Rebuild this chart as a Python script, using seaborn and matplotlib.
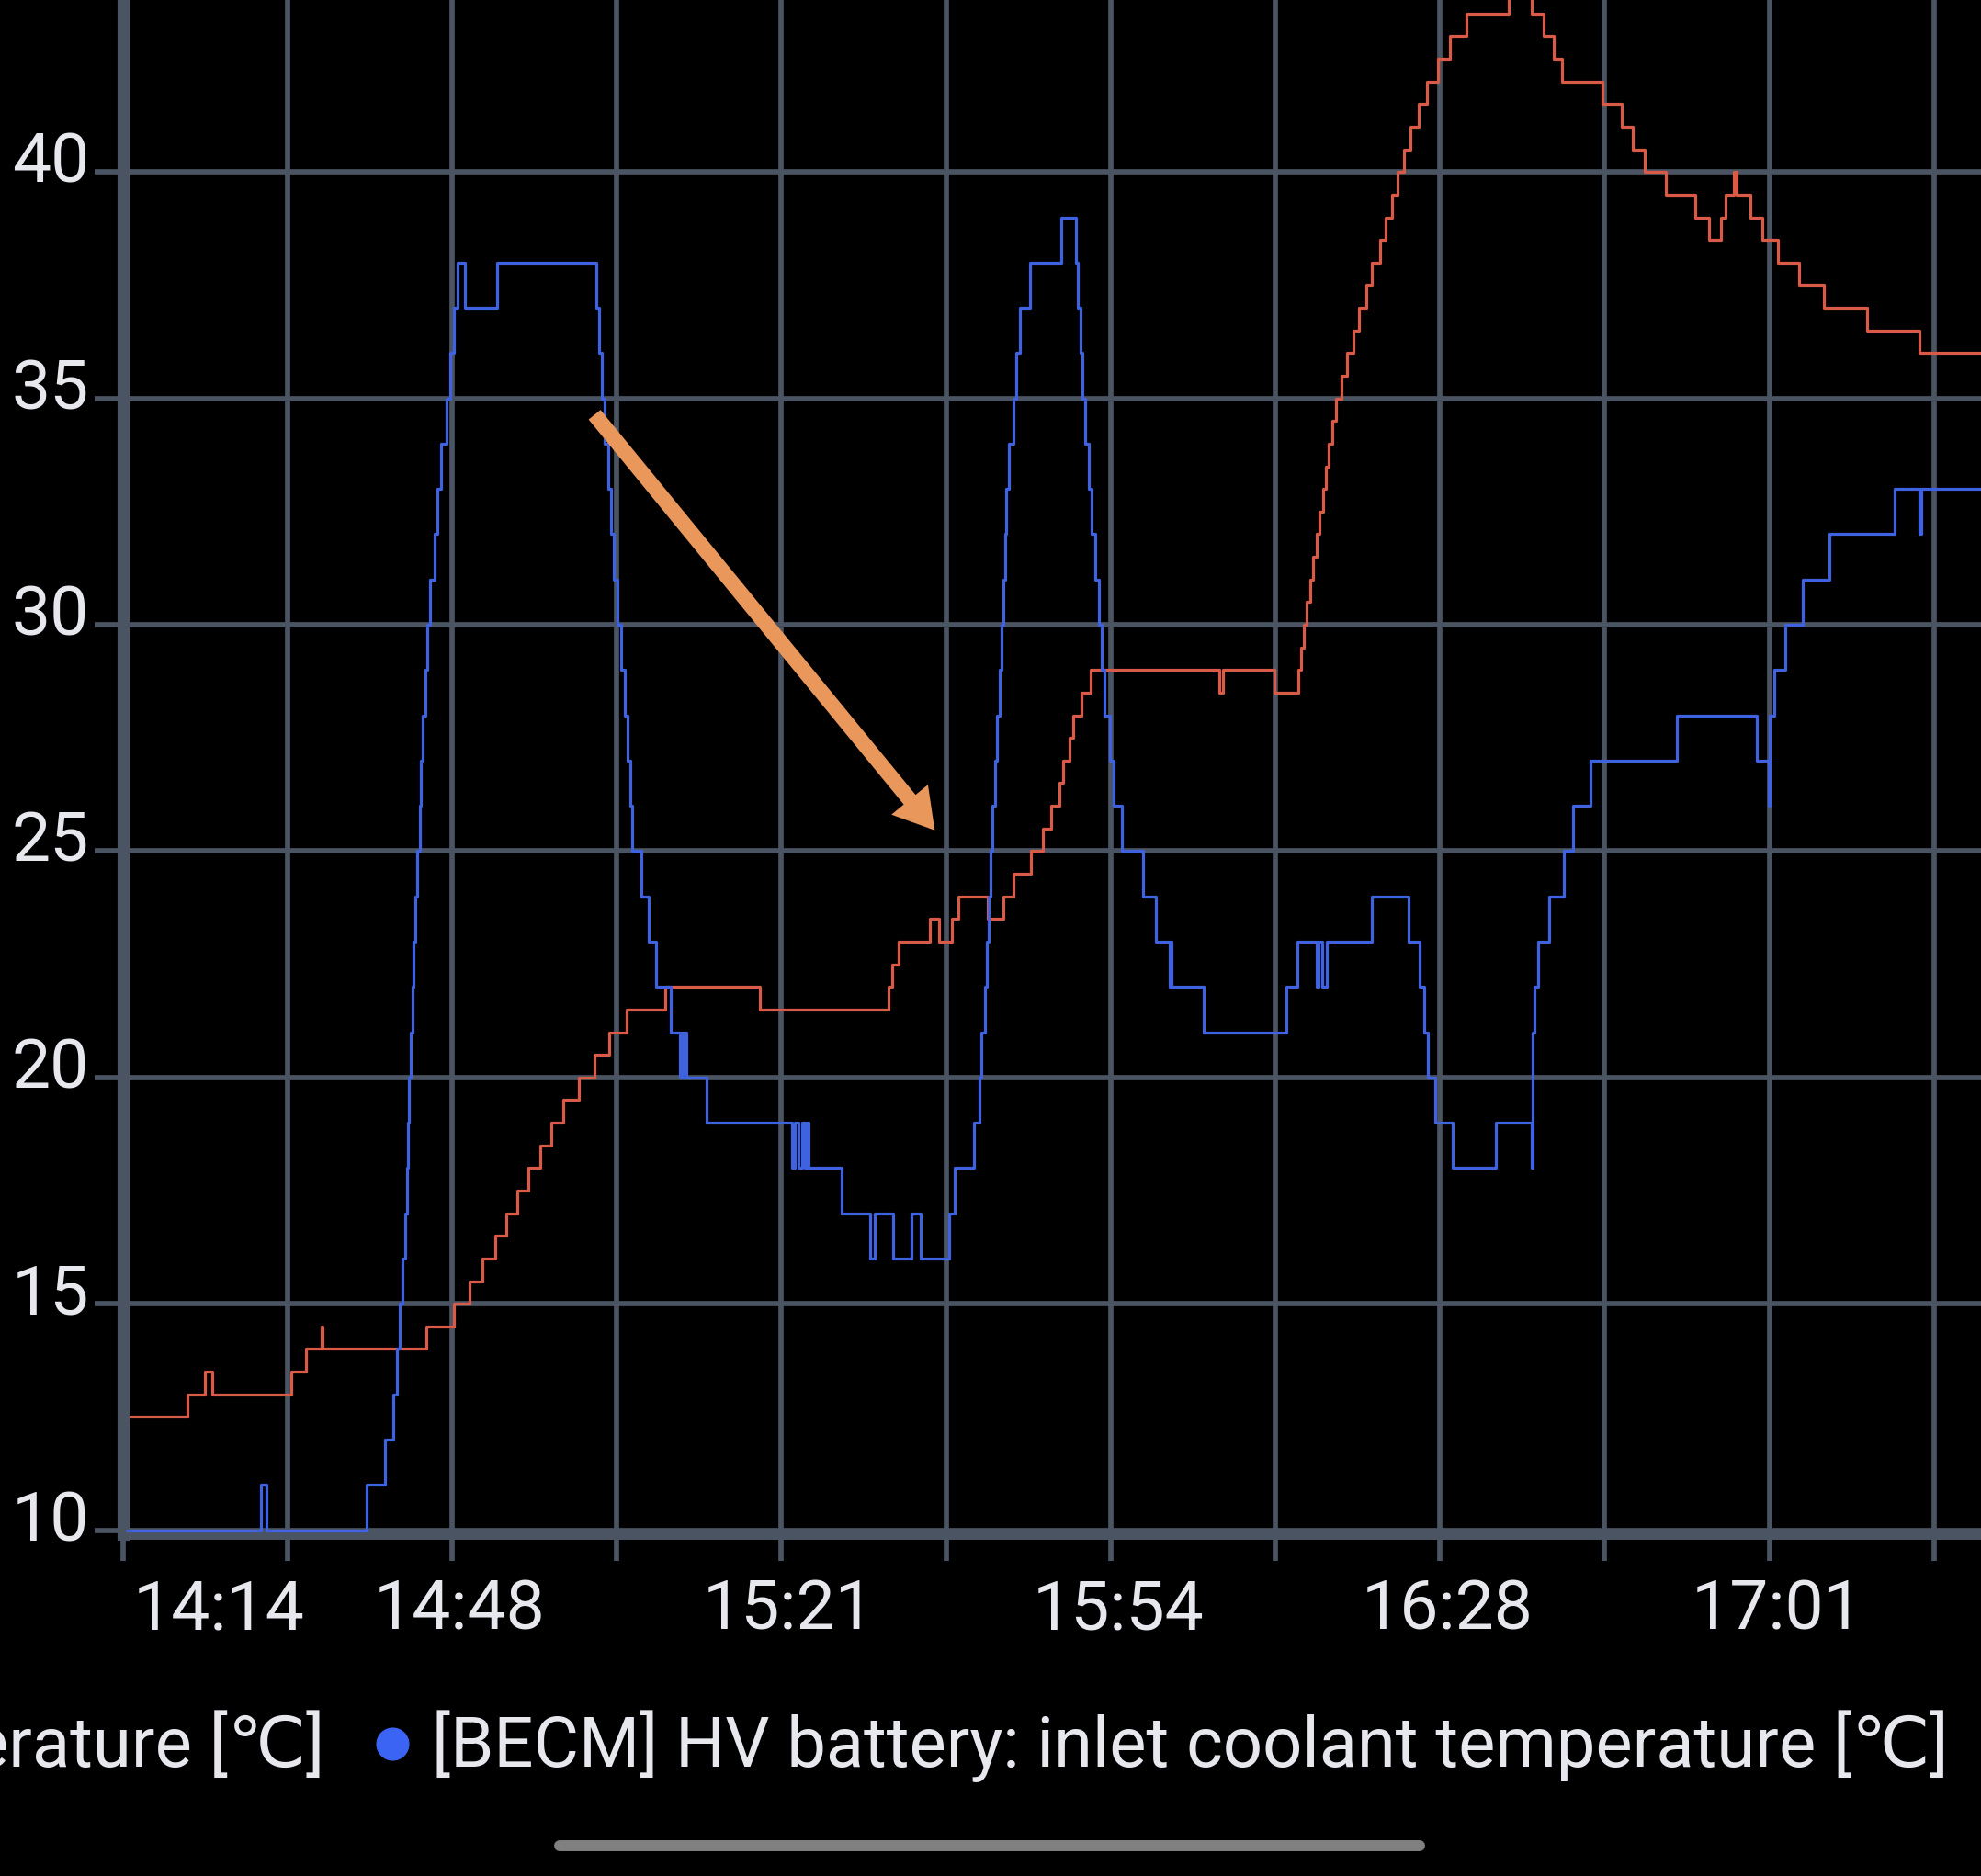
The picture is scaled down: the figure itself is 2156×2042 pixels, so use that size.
import pandas as pd
import seaborn as sns
import matplotlib.pyplot as plt
from matplotlib.lines import Line2D
from matplotlib.transforms import ScaledTranslation

# readings: minutes after 14:14 where the value changes, and the new value [°C]
red_minutes = [0.8, 6.6, 8.3, 9.1, 17.1, 18.6, 20.2, 20.3, 30.8, 33.6, 35.2, 36.5, 37.8,
               38.9, 40.0, 41.1, 42.3, 43.5, 44.7, 46.3, 47.8, 49.3, 51.1, 55.0, 64.6,
               77.7, 78.0, 78.7, 81.9, 82.8, 84.1, 84.7, 87.7, 89.3, 90.3, 92.1, 93.3,
               94.2, 95.0, 95.4, 96.0, 96.4, 97.2, 98.2, 111.2, 111.6, 116.8,
               119.2, 119.5, 119.8, 120.1, 120.4, 120.7, 121.1, 121.4, 121.7, 122.0, 122.3,
               122.7, 123.0, 123.6, 124.2, 124.8, 125.4, 126.1, 126.7, 127.5, 128.1, 128.7,
               129.3, 129.9, 130.6, 131.4, 132.3, 133.4, 134.6, 136.3, 140.6,
               142.9, 144.1, 145.1, 146.0, 150.1, 152.0, 153.1, 154.4, 156.5, 159.5, 160.9,
               162.1, 162.6, 163.4, 163.7, 165.1, 166.3, 167.9, 170.0, 172.5, 176.9, 182.2,
               188.5]
red_temp = [12.5, 13, 13.5, 13, 13.5, 14, 14.5, 14, 14.5, 15, 15.5, 16, 16.5,
            17, 17.5, 18, 18.5, 19, 19.5, 20, 20.5, 21, 21.5, 22, 21.5,
            22, 22.5, 23, 23.5, 23, 23.5, 24, 23.5, 24, 24.5, 25, 25.5,
            26, 26.5, 27, 27.5, 28, 28.5, 29, 28.5, 29, 28.5,
            29, 29.5, 30, 30.5, 31, 31.5, 32, 32.5, 33, 33.5, 34,
            34.5, 35, 35.5, 36, 36.5, 37, 37.5, 38, 38.5, 39, 39.5,
            40, 40.5, 41, 41.5, 42, 42.5, 43, 43.5, 44,
            43.5, 43, 42.5, 42, 41.5, 41, 40.5, 40, 39.5, 39, 38.5,
            39, 39.5, 40, 39.5, 39, 38.5, 38, 37.5, 37, 36.5, 36,
            36]

blue_minutes = [0.4, 14.0, 14.6, 24.7, 26.6, 27.4, 27.8, 28.1, 28.4, 28.6, 28.8, 28.9,
                29.0, 29.2, 29.4, 29.5, 29.7, 29.9, 30.1, 30.2, 30.4, 30.7, 30.9, 31.2,
                31.6, 31.9, 32.3, 32.8, 33.2, 33.6, 34.0, 34.7, 38.0,
                48.0, 48.3, 48.6, 48.9, 49.2, 49.5, 49.8, 50.2, 50.5, 50.9, 51.2, 51.5,
                51.7, 52.6, 53.3, 54.1, 55.6, 56.5, 56.7, 56.9, 57.0, 57.2, 59.2,
                67.9, 68.2, 68.5, 68.9, 69.2, 69.4, 69.6, 72.9, 75.8, 76.3, 78.1, 80.0,
                80.9, 83.8, 84.4, 86.3,
                86.9, 87.1, 87.4, 87.6, 87.8, 88.0, 88.2, 88.5, 88.7, 88.9, 89.1, 89.3,
                89.5, 89.6, 89.9, 90.3, 90.6, 91.0, 92.0, 95.2,
                96.7, 96.9, 97.1, 97.3, 97.6, 98.0, 98.3, 98.6, 99.0, 99.3, 99.6, 100.1,
                100.5, 101.3, 103.5, 104.8, 106.2, 106.3, 106.4, 109.6,
                118.0, 119.1, 121.1, 121.3, 121.6, 122.1, 126.7, 130.4, 131.5, 132.0,
                132.4, 133.1, 134.9, 139.3, 142.9, 143.0, 143.2, 143.5, 144.7, 146.2,
                147.1, 148.9,
                157.6, 165.7, 166.9, 167.0, 167.5, 168.6, 170.4, 173.1, 179.7, 182.2,
                182.4, 188.5]
blue_temp = [10, 11, 10, 11, 12, 13, 14, 15, 16, 17, 18, 19,
             20, 21, 22, 23, 24, 25, 26, 27, 28, 29, 30, 31,
             32, 33, 34, 35, 36, 37, 38, 37, 38,
             37, 36, 35, 34, 33, 32, 31, 30, 29, 28, 27, 26,
             25, 24, 23, 22, 21, 20, 21, 20, 21, 20, 19,
             18, 19, 18, 19, 18, 19, 18, 17, 16, 17, 16, 17,
             16, 17, 18, 19,
             20, 21, 22, 23, 24, 25, 26, 27, 28, 29, 30, 31,
             32, 33, 34, 35, 36, 37, 38, 39,
             38, 37, 36, 35, 34, 33, 32, 31, 30, 29, 28, 27,
             26, 25, 24, 23, 22, 23, 22, 21,
             22, 23, 22, 23, 22, 23, 24, 23, 22, 21,
             20, 19, 18, 19, 18, 21, 22, 23, 24, 25,
             26, 27,
             28, 27, 26, 28, 29, 30, 31, 32, 33, 32,
             33, 33]

tick_minutes = [0, 16.7, 33.4, 50.1, 66.8, 83.5, 100.2, 116.9, 133.6, 150.3, 167.0, 183.7]
tick_labels = ["14:14", "", "14:48", "", "15:21", "", "15:54", "", "16:28", "", "17:01", ""]
temp_ticks = [10, 15, 20, 25, 30, 35, 40]

red_label = "erature [℃]"  # cut off by the screen edge
blue_label = "[BECM] HV battery: inlet coolant temperature [℃]"

RED = "#d95a47"
BLUE = "#3f62e0"
DOT = "#3c64f4"
GRID = "#4b5463"
TEXT = "#e6e8ee"
ARROW = "#e9975b"

df = pd.concat([
    pd.DataFrame({"minute": red_minutes, "temp": red_temp, "series": "red"}),
    pd.DataFrame({"minute": blue_minutes, "temp": blue_temp, "series": "blue"}),
], ignore_index=True)

sns.set_theme(style="dark", rc={"axes.facecolor": "black", "figure.facecolor": "black",
                                "savefig.facecolor": "black"})
plt.rcParams["font.family"] = ["Roboto", "DejaVu Sans"]

W, H = 2156, 2042
fig = plt.figure(figsize=(W / 100, H / 100), dpi=100)
ax = fig.add_axes([133.6 / W, 1 - 1670.5 / H, 1 - 133.6 / W, 1670.5 / H])

sns.lineplot(data=df, x="minute", y="temp", hue="series", hue_order=["red", "blue"],
             palette={"red": RED, "blue": BLUE}, drawstyle="steps-post",
             estimator=None, sort=False, linewidth=2.3, legend=False, ax=ax, zorder=3)

ax.set_xlim(0, 188.46)
ax.set_ylim(9.9, 43.8)
ax.set_xticks(tick_minutes, labels=tick_labels)
ax.set_yticks(temp_ticks, labels=[str(v) for v in temp_ticks])
ax.set_xlabel("")
ax.set_ylabel("")

ax.grid(True, color=GRID, linewidth=4.1)
ax.set_axisbelow(True)
for s in ["top", "right"]:
    ax.spines[s].set_visible(False)
ax.spines["left"].set_color(GRID)
ax.spines["left"].set_linewidth(9.5)
ax.spines["bottom"].set_color(GRID)
ax.spines["bottom"].set_linewidth(6.5)

ax.tick_params(axis="x", length=20, width=4.1, color=GRID, pad=13.5,
               labelsize=54, labelcolor=TEXT, bottom=True)
ax.tick_params(axis="y", length=22, width=4.1, color=GRID, pad=4.3,
               labelsize=54, labelcolor=TEXT, left=True)

for i, lbl in enumerate(ax.get_xticklabels()):
    dx = 1.05 if i == 0 else 0.08
    lbl.set_transform(lbl.get_transform() + ScaledTranslation(dx, 0, fig.dpi_scale_trans))
for lbl in ax.get_yticklabels():
    lbl.set_va("center")
    lbl.set_transform(lbl.get_transform() + ScaledTranslation(0, 0.09, fig.dpi_scale_trans))

# orange arrow drawn on the screenshot
ax.annotate("", xy=(82.35, 25.46), xytext=(47.85, 34.64),
            arrowprops=dict(arrowstyle="simple,head_length=3.1,head_width=3.7,tail_width=1.2",
                            mutation_scale=10, color=ARROW, lw=0, shrinkA=0, shrinkB=0),
            zorder=5)

# legend row at the bottom
base_y = 1 - 1923 / H
blue_txt = fig.text(470 / W, base_y, blue_label, color=TEXT, fontsize=40,
                    ha="left", va="baseline")
red_txt = fig.text(353 / W, base_y, red_label, color=TEXT, fontsize=40,
                   ha="right", va="baseline")
fig.canvas.draw()
r = fig.canvas.get_renderer()
fs = 40 * 1651 / blue_txt.get_window_extent(r).width
blue_txt.set_fontsize(fs)
red_txt.set_fontsize(fs)

fig.add_artist(Line2D([427 / W], [1 - 1898 / H], marker="o", markersize=25,
                      color=DOT, linestyle="none", transform=fig.transFigure))

# phone home indicator
fig.add_artist(Line2D([609 / W, 1545 / W], [1 - 2009 / H, 1 - 2009 / H], linewidth=8.6,
                      color="#808080", solid_capstyle="round", transform=fig.transFigure))

fig.savefig("out.png", dpi=100, facecolor="black")
